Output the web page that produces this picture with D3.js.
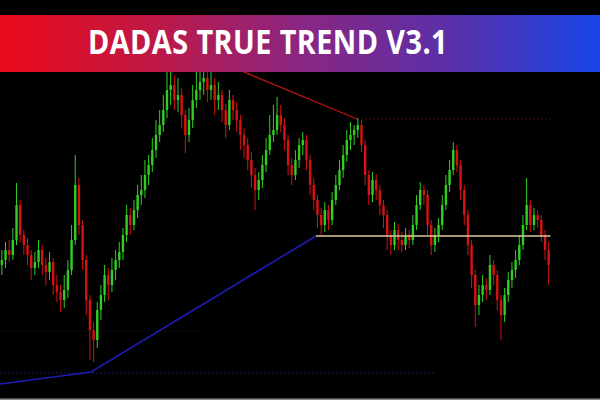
<!DOCTYPE html>
<html>
<head>
<meta charset="utf-8">
<script src="https://cdn.jsdelivr.net/npm/d3@7/dist/d3.min.js"></script>
<style>
html,body{margin:0;padding:0;background:#000;}
svg{display:block;}
</style>
</head>
<body>
<svg id="chart" width="600" height="400"></svg>
<script>
// ---- Data (price units) ----
const title = "DADAS TRUE TREND V3.1";
const opens = [135,140,150,145,160,195,165,155,145,132,138,150,135,128,138,115,108,100,110,130,
160,215,175,140,100,70,60,90,105,125,115,130,140,148,165,185,175,190,205,210,
225,235,250,265,275,290,310,315,300,305,285,265,280,300,310,318,322,310,315,300,
305,290,275,300,290,280,265,255,240,225,210,220,235,250,265,270,285,275,260,235,
225,240,255,260,240,215,200,185,175,190,180,200,215,230,245,260,265,270,275,255,
225,205,220,210,195,185,165,155,170,160,155,165,160,175,195,210,205,175,155,165,
175,195,215,230,250,235,210,185,155,125,95,105,115,110,135,125,100,85,105,120,
130,140,155,175,195,175,185,180,165,150];
const highs = [150,158,160,172,217,200,170,162,150,148,160,155,142,148,142,125,115,125,140,175,
245,222,180,145,105,78,98,115,135,132,142,150,158,172,195,192,200,215,225,240,
245,262,280,290,305,330,330,325,322,312,290,292,315,330,330,330,330,328,322,318,
310,296,310,305,298,285,272,262,248,232,228,245,262,285,295,303,295,282,265,242,
250,262,268,265,245,222,205,192,198,195,208,225,240,255,270,278,275,282,280,260,
230,228,226,215,200,190,170,178,176,168,172,170,185,205,218,215,210,180,172,182,
205,225,240,258,255,240,215,190,160,130,115,125,122,145,140,130,105,112,128,138,
150,165,185,222,200,192,190,185,170,158];
const lows = [125,132,138,140,155,158,145,135,120,125,132,125,115,120,105,98,88,92,102,125,
155,165,130,85,40,38,52,80,98,100,108,120,132,140,158,165,170,182,195,202,
215,228,242,258,268,282,295,290,288,272,247,258,272,292,300,305,298,300,285,290,
278,262,270,280,268,250,242,230,212,190,200,212,228,245,258,265,268,250,225,215,
220,232,245,230,205,190,172,165,168,170,175,195,210,222,238,250,255,262,248,215,
195,198,200,185,172,150,145,150,150,148,150,152,155,170,190,195,165,145,148,158,
170,190,208,225,228,200,175,145,112,73,85,98,100,105,115,90,60,78,98,112,
122,135,150,170,168,170,172,158,140,115];
const closes = [140,150,145,160,195,165,155,145,132,138,150,135,128,138,115,108,100,110,130,160,
215,175,140,100,70,60,90,105,125,115,130,140,148,165,185,175,190,205,210,225,
235,250,265,275,290,310,315,300,305,285,265,280,300,310,318,322,310,315,300,305,
290,275,300,290,280,265,255,240,225,210,220,235,250,265,270,285,275,260,235,225,
240,255,260,240,215,200,185,175,190,180,200,215,230,245,260,265,270,275,255,225,
205,220,210,195,185,165,155,170,160,155,165,160,175,195,210,205,175,155,165,175,
195,215,230,250,235,210,185,155,125,95,105,115,110,135,125,100,85,105,120,130,
140,155,175,195,175,185,180,165,150,135];

// Indicator lines: [bar position, price]
const resistanceTrend = [[50, 353], [97.3, 281]];
const resistanceLevel = [[97.3, 281], [150, 281]];
const supportLevel = [[86.1, 164], [150, 164]];
const supportTrend = [[0, 16], [24.8, 28], [86.1, 164]];
const lowLevel = [[0, 27], [118.8, 27]];
const faintLevel = [[0, 69], [55, 69]];

// ---- Drawing ----
const W = 600, H = 400;
const svg = d3.select("#chart");
svg.append("rect").attr("width", W).attr("height", H).attr("fill", "#000");

const x = d3.scaleLinear().domain([0, 150]).range([0, 550.5]);
const y = d3.scaleLinear().domain([0, 330]).range([400, 70]);

const line = d3.line().x(d => x(d[0])).y(d => y(d[1]));

// faint levels
svg.append("path").datum(faintLevel).attr("d", line)
  .attr("stroke", "#0e0e2c").attr("stroke-width", 1).attr("fill", "none")
  .attr("stroke-dasharray", "2,2");
svg.append("path").datum(lowLevel).attr("d", line)
  .attr("stroke", "#1c1c66").attr("stroke-width", 1).attr("fill", "none")
  .attr("stroke-dasharray", "2,2");
svg.append("path").datum(resistanceLevel).attr("d", line)
  .attr("stroke", "#4a0a0a").attr("stroke-width", 1).attr("fill", "none")
  .attr("stroke-dasharray", "2,2");

// candles
const bw = 2.4;
const g = svg.append("g");
const idx = d3.range(closes.length);
const col = i => closes[i] >= opens[i] ? "#2fcf22" : "#d61212";
g.selectAll("line.wick").data(idx).join("line")
  .attr("class", "wick")
  .attr("x1", i => x(i + 0.5)).attr("x2", i => x(i + 0.5))
  .attr("y1", i => y(highs[i])).attr("y2", i => y(lows[i]))
  .attr("stroke", col).attr("stroke-width", 1);
g.selectAll("rect.body").data(idx).join("rect")
  .attr("class", "body")
  .attr("x", i => x(i + 0.5) - bw / 2)
  .attr("width", bw)
  .attr("y", i => y(Math.max(opens[i], closes[i])))
  .attr("height", i => Math.max(1, Math.abs(y(opens[i]) - y(closes[i]))))
  .attr("fill", col);

// trend lines
svg.append("path").datum(supportTrend).attr("d", line)
  .attr("stroke", "#1c1cb4").attr("stroke-width", 1.6).attr("fill", "none");
svg.append("path").datum(supportLevel).attr("d", line)
  .attr("stroke", "#d9c99c").attr("stroke-width", 1.6).attr("fill", "none");
svg.append("path").datum(resistanceTrend).attr("d", line)
  .attr("stroke", "#b81414").attr("stroke-width", 1.3).attr("fill", "none");

// bottom grey rule
svg.append("rect").attr("x", 0).attr("y", 398.5).attr("width", W).attr("height", 1.5)
  .attr("fill", "#8a8a8a");

// banner
const defs = svg.append("defs");
const grad = defs.append("linearGradient").attr("id", "bg").attr("x1", "0").attr("x2", "1");
grad.append("stop").attr("offset", "0").attr("stop-color", "#ec0a1a");
grad.append("stop").attr("offset", "0.22").attr("stop-color", "#c5163e");
grad.append("stop").attr("offset", "0.5").attr("stop-color", "#8a2682");
grad.append("stop").attr("offset", "0.75").attr("stop-color", "#5a30a8");
grad.append("stop").attr("offset", "1").attr("stop-color", "#1846e8");
svg.append("rect").attr("x", 0).attr("y", 0).attr("width", W).attr("height", 15).attr("fill", "#000");
svg.append("rect").attr("x", 0).attr("y", 15).attr("width", W).attr("height", 57).attr("fill", "url(#bg)");
svg.append("text").attr("x", 268).attr("y", 53.5)
  .attr("text-anchor", "middle")
  .attr("font-family", "'Open Sans', Inter, sans-serif")
  .attr("font-weight", 700)
  .attr("font-size", 34)
  .attr("letter-spacing", 0.5)
  .attr("fill", "#fff")
  .attr("textLength", 360).attr("lengthAdjust", "spacingAndGlyphs")
  .text(title);
</script>
</body>
</html>
